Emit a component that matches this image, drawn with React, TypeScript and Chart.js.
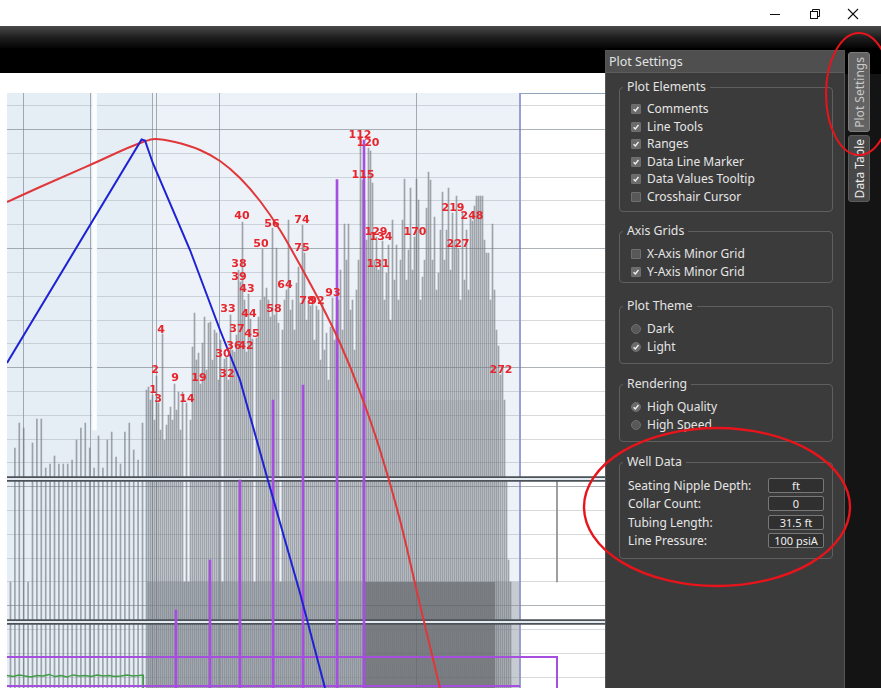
import React, { useEffect, useRef } from "react";
import { Chart, registerables } from "chart.js";

Chart.register(...registerables);

// ---------------- chart data (x: time units, y: amplitude units) ----------------
const xMax = 299;
const yMax = 119;

const leftSpikeStart = 1.75;
const leftSpikeStep = 2.2;
const leftSpikeAmps = [
  21.2, 48, 53, 52, 21.2, 49, 53.8, 53.8, 44, 44.8,
  46.4, 44.8, 44.8, 44.8, 45.6, 49.6, 52, 53, 48, 44,
  50.4, 44, 49.6, 51.2, 46.2, 44.8, 51.2, 53, 47.6, 45.6,
  53,
];

const denseSpikeStart = 69.75;
const denseSpikeStep = 1;
const denseSpikeAmps = [
  59.6, 60.2, 57.6, 58.6, 53.6, 62.4, 57, 51.6, 70.8, 49.6,
  52.6, 54.6, 56.2, 53.6, 60.8, 55.6, 59.2, 51.6, 59.2, 21.2,
  57, 21.2, 53.6, 68.2, 75, 65.6, 67, 60.8, 69, 74.2,
  63.6, 73, 73.2, 65.6, 71.6, 71, 61.6, 69.6, 21.2, 65.8,
  66.2, 61.6, 74.6, 67.6, 67.2, 70.6, 83.6, 81.2, 93.2, 77.6,
  67.2, 78.8, 73.8, 69.8, 21.2, 70, 74.2, 77.6, 87.8, 78.2,
  80, 77.6, 74.2, 92, 74.6, 88, 73, 21.2, 71.6, 77.6,
  79.6, 93.6, 75.6, 77.6, 71.6, 81, 84.2, 77, 92.6, 87,
  73.6, 77, 76.4, 78, 69.6, 76.4, 75.6, 65.6, 77, 67.6,
  71, 61.6, 72.2, 78, 69.6, 73.6, 77.6, 83.6, 71.6, 92.8,
  85.6, 92.8, 75.6, 77.6, 67.6, 79.6, 85.6, 109.6, 101.6, 97.6,
  89.6, 108, 107.4, 101, 85.6, 90.2, 83.6, 85.6, 89.4, 77.6,
  83, 88.6, 73.6, 93.6, 81.6, 88.6, 77.6, 85.6, 93.6, 101.8,
  81.6, 87.6, 100, 83.6, 90.2, 101.8, 97.6, 77.6, 82.2, 85.6,
  96, 103.2, 101.6, 85.6, 94.2, 79.6, 83, 91.6, 99.2, 85.6,
  91.6, 100, 83.6, 95, 89.6, 98.4, 87.8, 77.6, 95.2, 81.6,
  91.6, 79.6, 94.2, 93.4, 96.4, 98.4, 98.4, 98.4, 98.4, 89.6,
  87, 87, 77.6, 92.8, 79.6, 71.6, 68.4, 62.6, 64.2, 57.6,
  41.6, 25.6, 21.2,
];

const labelNames = ["1", "2", "3", "4", "9", "14", "19", "30", "32", "33", "36", "37", "38", "39", "40", "42", "43", "44", "45", "50", "56", "58", "64", "74", "75", "78", "92", "93", "112", "115", "120", "129", "131", "134", "170", "219", "227", "248", "272"];
const labelTimes = [73, 74, 75.5, 77, 84, 90, 96, 108, 110, 110.5, 113.5, 115, 116, 116, 117.5, 119.5, 120, 121, 122.5, 127, 132.5, 133.5, 139, 147.5, 147.5, 150, 155, 163, 176.5, 178, 180.5, 184.5, 185.5, 187, 204, 223, 225.5, 232.5, 247];
const labelAmps = [58.6, 62.6, 56.8, 70.6, 61, 56.8, 61, 65.8, 61.8, 74.8, 67.4, 70.8, 83.8, 81.2, 93.4, 67.4, 78.8, 73.8, 69.8, 87.8, 91.8, 74.8, 79.6, 92.6, 87, 76.4, 76.4, 78, 109.6, 101.6, 108, 90.2, 83.8, 89.2, 90.2, 95, 87.8, 93.4, 62.6];

const redTimes = [0, 16.5, 41.5, 68, 74, 84, 96.5, 106.5, 116.5, 126.5, 136.5, 146.5, 156.5, 166.5, 176.5, 186.5, 196.5, 206.5, 216.5, 219.5];
const redAmps = [97.2, 100.2, 104.6, 109.2, 109.8, 109.2, 107.6, 105.4, 102, 97.4, 91.6, 84.6, 77.2, 69, 59.2, 47.6, 33.6, 16.6, 0, -4.8];

const blueTimes = [0, 67.3, 69, 73, 91.5, 106.5, 116.5, 130, 146.5, 159, 161.5];
const blueAmps = [65, 109.7, 109.5, 104.9, 87.6, 71.6, 61.6, 42.2, 19, 0, -3.4];

const purpleTimes = [84.5, 101.5, 116.5, 133, 148, 165, 178.5];
const purpleTops = [15.6, 25.6, 41.6, 57.6, 60.6, 101.7, 109.6];

const rectTimes = [0, 275, 275];
const rectAmps = [6.2, 6.2, -2];
const bottomLineTimes = [0, 256.5];
const bottomLineAmps = [0.4, 0.4];

const greenTimes = [0, 3, 6, 9, 12, 15, 18, 21, 24, 27, 30, 33, 36, 39, 42, 45, 48, 51, 54, 57, 60, 63, 66, 68, 68.2];
const greenAmps = [2.5, 2.3, 2.6, 2.4, 2.2, 2.5, 2.4, 2.7, 2.3, 2.5, 2.2, 2.6, 2.4, 2.5, 2.3, 2.6, 2.4, 2.5, 2.3, 2.4, 2.6, 2.4, 2.5, 2.6, -2];

const markerLevels = [41.8, 13.2];

const floorStarts = [70, 179, 244];
const floorEnds = [179, 244, 256.5];
const floorLevel = 21.2;
const hazeStart = 179;
const hazeEnd = 246;
const hazeLevel = 57.6;

const whiteBandTime = 43.8;
const whiteBandRange = [51.6, 119];
const sideMarkTime = 275;
const sideMarkRange = [21.2, 41.8];

const shadeStarts = [0, 72.5];
const shadeEnds = [72.5, 256.5];

const xGridTimes = [8, 41.5, 72.5, 74.5, 106, 204.5, 256.5];
const yGridLevels = [2.2, 6.96, 11.72, 16.48, 21.24, 26.0, 30.76, 35.52, 40.28, 45.04, 49.8, 54.56, 59.32, 64.08, 68.84, 73.6, 78.36, 83.12, 87.88, 92.64, 97.4, 102.16, 106.92, 111.68, 116.44];
const yMajorLevels = [16.48, 40.28, 64.08, 87.88, 111.68];

// ---------------- panel content ----------------
const plotElementItems = ["Comments", "Line Tools", "Ranges", "Data Line Marker", "Data Values Tooltip", "Crosshair Cursor"];
const plotElementChecks = [true, true, true, true, true, false];
const axisGridItems = ["X-Axis Minor Grid", "Y-Axis Minor Grid"];
const axisGridChecks = [false, true];
const themeItems = ["Dark", "Light"];
const themeChecks = [false, true];
const renderItems = ["High Quality", "High Speed"];
const renderChecks = [true, false];
const wellLabels = ["Seating Nipple Depth:", "Collar Count:", "Tubing Length:", "Line Pressure:"];
const wellValues = ["ft", "0", "31.5 ft", "100 psiA"];

const zip = (xs: number[], ys: number[]) => xs.map((x, i) => ({ x, y: ys[i] }));

const panelFont = '"Noto Sans", "Open Sans", sans-serif';
const panelBg = "#3b3b3b";

function Box({ checked, round }: { checked: boolean; round?: boolean }) {
  return (
    <div
      style={{
        width: 10,
        height: 10,
        borderRadius: round ? 5 : 1,
        background: checked ? "#6b6b6b" : "#585858",
        border: "1px solid #6e6e6e",
        boxSizing: "border-box",
        position: "relative",
      }}
    >
      {checked && (
        <svg width="10" height="10" style={{ position: "absolute", left: -1, top: -1 }}>
          <polyline points="2.6,5.2 4.3,7 7.5,3" fill="none" stroke="#f2f2f2" strokeWidth="1.3" />
        </svg>
      )}
    </div>
  );
}

function Group({ top, height, title, children }: { top: number; height: number; title: string; children?: any }) {
  return (
    <>
      <div
        style={{
          position: "absolute",
          left: 619,
          top,
          width: 214,
          height,
          border: "1px solid #5f5f5f",
          borderRadius: 4,
          boxSizing: "border-box",
        }}
      />
      <div
        style={{
          position: "absolute",
          left: 623,
          top: top - 8,
          padding: "0 4px",
          background: panelBg,
          color: "#e4e4e4",
          fontSize: 12.3,
          lineHeight: "16px",
          whiteSpace: "nowrap",
        }}
      >
        {title}
      </div>
      {children}
    </>
  );
}

function Items({ top, items, checks, round }: { top: number; items: string[]; checks: boolean[]; round?: boolean }) {
  return (
    <>
      {items.map((label, i) => {
        const y = top + i * 17.6;
        return (
          <React.Fragment key={label}>
            <div style={{ position: "absolute", left: 631, top: y - 5 }}>
              <Box checked={checks[i]} round={round} />
            </div>
            <div
              style={{
                position: "absolute",
                left: 647,
                top: y - 8,
                lineHeight: "16px",
                fontSize: 12,
                color: "#e6e6e6",
                whiteSpace: "nowrap",
              }}
            >
              {label}
            </div>
          </React.Fragment>
        );
      })}
    </>
  );
}

export default function App() {
  const canvasRef = useRef<HTMLCanvasElement | null>(null);

  useEffect(() => {
    document.body.style.margin = "0";
    const canvas = canvasRef.current;
    if (!canvas) return;

    const spikeData = [
      ...leftSpikeAmps.map((a, i) => ({ x: leftSpikeStart + i * leftSpikeStep, y: a })),
      ...denseSpikeAmps.map((a, i) => ({ x: denseSpikeStart + i * denseSpikeStep, y: a })),
    ];
    const purpleData = purpleTimes.map((t, i) => ({ x: t, y: purpleTops[i] }));

    const bar = (data: any[], color: string, thickness: number, order: number) => ({
      type: "bar" as const,
      data,
      backgroundColor: color,
      borderWidth: 0,
      barThickness: thickness,
      stack: "marks",
      order,
    });
    const line = (data: any[], color: string, width: number, order: number, extra: any = {}) => ({
      type: "line" as const,
      data,
      borderColor: color,
      borderWidth: width,
      pointRadius: 0,
      fill: false,
      tension: 0,
      order,
      ...extra,
    });
    const fillArea = (x0: number, x1: number, level: number, color: string, order: number) => ({
      type: "line" as const,
      data: [
        { x: x0, y: level },
        { x: x1, y: level },
      ],
      borderWidth: 0,
      borderColor: "rgba(0,0,0,0)",
      backgroundColor: color,
      pointRadius: 0,
      fill: "origin",
      order,
    });

    const floorColors = ["rgba(150,156,162,0.5)", "rgba(70,73,76,0.6)", "rgba(150,156,162,0.45)"];

    const datasets: any[] = [
      line(zip(blueTimes, blueAmps), "#1e22d4", 2, 1),
      line(zip(redTimes, redAmps), "#e0373a", 2, 2, { cubicInterpolationMode: "monotone" }),
      bar(purpleData, "#a64ee0", 2, 3),
      line(zip(rectTimes, rectAmps), "#a64ee0", 2, 3),
      line(zip(bottomLineTimes, bottomLineAmps), "#a64ee0", 2, 3),
      line(zip(greenTimes, greenAmps), "#3f9c45", 1.3, 4),
      ...markerLevels.map((lv) => line([{ x: 0, y: lv }, { x: xMax, y: lv }], "#e4eaef", 2, 5)),
      ...markerLevels.map((lv) => line([{ x: 0, y: lv }, { x: xMax, y: lv }], "#4b5258", 5.5, 6)),
      bar(spikeData, "rgba(112,117,122,0.62)", 1, 8),
      bar([{ x: sideMarkTime, y: sideMarkRange }], "#8c8c8c", 1, 8),
      fillArea(hazeStart, hazeEnd, hazeLevel, "rgba(60,62,65,0.08)", 9),
      ...floorStarts.map((s, i) => fillArea(s, floorEnds[i], floorLevel, floorColors[i], 10)),
      bar([{ x: whiteBandTime, y: whiteBandRange }], "#fbfdff", 4, 11),
    ];

    const shadeColors = ["#e5edf5", "#edf2f8"];
    const shadePlugin = {
      id: "shade",
      beforeDraw(chart: any) {
        const { ctx, chartArea, scales } = chart;
        ctx.save();
        shadeStarts.forEach((s, i) => {
          const x0 = scales.x.getPixelForValue(s);
          const x1 = scales.x.getPixelForValue(shadeEnds[i]);
          ctx.fillStyle = shadeColors[i];
          ctx.fillRect(x0, chartArea.top, x1 - x0, chartArea.bottom - chartArea.top);
        });
        ctx.restore();
      },
    };

    const labelPlugin = {
      id: "spikeLabels",
      afterDatasetsDraw(chart: any) {
        const { ctx, scales } = chart;
        ctx.save();
        ctx.font = 'bold 11px "DejaVu Sans", sans-serif';
        ctx.fillStyle = "#e6252c";
        ctx.textAlign = "center";
        ctx.textBaseline = "alphabetic";
        labelNames.forEach((name, i) => {
          const px = scales.x.getPixelForValue(labelTimes[i]);
          const py = scales.y.getPixelForValue(labelAmps[i]) - 2;
          ctx.fillText(name, px, py);
        });
        ctx.restore();
      },
    };

    const chart = new Chart(canvas, {
      type: "bar",
      data: { datasets },
      options: {
        animation: false,
        responsive: false,
        devicePixelRatio: 1,
        events: [],
        layout: { padding: 0 },
        plugins: { legend: { display: false }, tooltip: { enabled: false } },
        scales: {
          x: {
            type: "linear",
            min: 0,
            max: xMax,
            offset: false,
            display: true,
            ticks: { display: false },
            border: { display: false },
            grid: {
              offset: false,
              drawTicks: false,
              color: (c: any) => (c.tick && c.tick.value === 256.5 ? "#9c9cd8" : "rgba(112,122,132,0.6)"),
              lineWidth: (c: any) => (c.tick && c.tick.value === 256.5 ? 2 : 1),
            },
            afterBuildTicks: (s: any) => {
              s.ticks = xGridTimes.map((v) => ({ value: v }));
            },
          },
          y: {
            type: "linear",
            min: 0,
            max: yMax,
            stacked: false,
            display: true,
            ticks: { display: false },
            border: { display: false },
            grid: {
              drawTicks: false,
              color: (c: any) =>
                c.tick && yMajorLevels.includes(c.tick.value) ? "rgba(118,126,134,0.6)" : "rgba(150,158,166,0.38)",
            },
            afterBuildTicks: (s: any) => {
              s.ticks = yGridLevels.map((v) => ({ value: v }));
            },
          },
        },
      } as any,
      plugins: [shadePlugin, labelPlugin],
    });

    return () => chart.destroy();
  }, []);

  return (
    <div
      style={{
        position: "fixed",
        left: 0,
        top: 0,
        width: 881,
        height: 688,
        overflow: "hidden",
        background: "#141414",
        fontFamily: panelFont,
      }}
    >
      {/* title bar */}
      <div style={{ position: "absolute", left: 0, top: 0, width: 881, height: 26, background: "#ffffff" }} />
      {/* toolbar gradient */}
      <div
        style={{
          position: "absolute",
          left: 0,
          top: 26,
          width: 881,
          height: 22,
          background: "linear-gradient(#4a4a4a, #1c1c1c 55%, #050505)",
        }}
      />
      <div style={{ position: "absolute", left: 0, top: 48, width: 881, height: 26, background: "#000" }} />

      {/* plot area */}
      <div style={{ position: "absolute", left: 0, top: 73, width: 605, height: 615, background: "#ffffff" }} />
      <div style={{ position: "absolute", left: 7, top: 93, width: 598, height: 1, background: "#8ea5ba" }} />
      <canvas
        ref={canvasRef}
        width={598}
        height={595}
        style={{ position: "absolute", left: 7, top: 93, width: 598, height: 595 }}
      />

      {/* right tab strip */}
      <div
        style={{
          position: "absolute",
          left: 848,
          top: 52,
          width: 22,
          height: 80,
          background: "#636363",
          border: "1px solid #7c7c7c",
          borderRadius: 3,
          boxSizing: "border-box",
          display: "flex",
          alignItems: "center",
          justifyContent: "center",
        }}
      >
        <div
          style={{
            writingMode: "vertical-rl",
            transform: "rotate(180deg)",
            color: "#c9c9c9",
            fontSize: 12,
            whiteSpace: "nowrap",
          }}
        >
          Plot Settings
        </div>
      </div>
      <div
        style={{
          position: "absolute",
          left: 848,
          top: 135,
          width: 22,
          height: 67,
          background: "#474747",
          border: "1px solid #5c5c5c",
          borderRadius: 3,
          boxSizing: "border-box",
          display: "flex",
          alignItems: "center",
          justifyContent: "center",
        }}
      >
        <div
          style={{
            writingMode: "vertical-rl",
            transform: "rotate(180deg)",
            color: "#ececec",
            fontSize: 12,
            whiteSpace: "nowrap",
          }}
        >
          Data Table
        </div>
      </div>

      {/* settings panel */}
      <div
        style={{
          position: "absolute",
          left: 605,
          top: 50,
          width: 240,
          height: 640,
          background: panelBg,
          border: "1px solid #565656",
          boxSizing: "border-box",
        }}
      />
      <div
        style={{
          position: "absolute",
          left: 606,
          top: 51,
          width: 238,
          height: 22,
          background: "#4f4f4f",
          borderBottom: "1px solid #5c5c5c",
          boxSizing: "border-box",
        }}
      />
      <div
        style={{
          position: "absolute",
          left: 609,
          top: 53,
          lineHeight: "17px",
          fontSize: 12.5,
          color: "#e2e2e2",
          whiteSpace: "nowrap",
        }}
      >
        Plot Settings
      </div>

      <Group top={87} height={125} title="Plot Elements">
        <Items top={109} items={plotElementItems} checks={plotElementChecks} />
      </Group>
      <Group top={231} height={52} title="Axis Grids">
        <Items top={254} items={axisGridItems} checks={axisGridChecks} />
      </Group>
      <Group top={306} height={58} title="Plot Theme">
        <Items top={329} items={themeItems} checks={themeChecks} round />
      </Group>
      <Group top={384} height={58} title="Rendering">
        <Items top={407} items={renderItems} checks={renderChecks} round />
      </Group>
      <Group top={462} height={97} title="Well Data">
        {wellLabels.map((lab, i) => {
          const y = 486 + i * 18.4;
          return (
            <React.Fragment key={lab}>
              <div
                style={{
                  position: "absolute",
                  left: 628,
                  top: y - 8,
                  lineHeight: "16px",
                  fontSize: 12,
                  color: "#e6e6e6",
                  whiteSpace: "nowrap",
                }}
              >
                {lab}
              </div>
              <div
                style={{
                  position: "absolute",
                  left: 768,
                  top: y - 8,
                  width: 56,
                  height: 15,
                  background: "#303030",
                  border: "1px solid #777",
                  borderRadius: 2,
                  boxSizing: "border-box",
                  color: "#eeeeee",
                  fontSize: 11,
                  lineHeight: "13px",
                  textAlign: "center",
                  whiteSpace: "nowrap",
                }}
              >
                {wellValues[i]}
              </div>
            </React.Fragment>
          );
        })}
      </Group>

      {/* window controls and red annotations */}
      <svg
        width={881}
        height={688}
        style={{ position: "absolute", left: 0, top: 0, pointerEvents: "none" }}
      >
        <line x1={770} y1={14.5} x2={780} y2={14.5} stroke="#111" strokeWidth={1} />
        <rect x={810.5} y={11.5} width={7} height={7} fill="none" stroke="#111" strokeWidth={1} />
        <polyline points="812.5,11.5 812.5,9.5 819.5,9.5 819.5,16.5 817.5,16.5" fill="none" stroke="#111" strokeWidth={1} />
        <line x1={848} y1={9} x2={858} y2={19} stroke="#111" strokeWidth={1.1} />
        <line x1={858} y1={9} x2={848} y2={19} stroke="#111" strokeWidth={1.1} />
        <ellipse cx={859} cy={94} rx={33} ry={61} fill="none" stroke="#e8141b" strokeWidth={2} />
        <ellipse cx={717} cy={507} rx={133} ry={79} fill="none" stroke="#e8141b" strokeWidth={2.4} />
      </svg>
    </div>
  );
}
